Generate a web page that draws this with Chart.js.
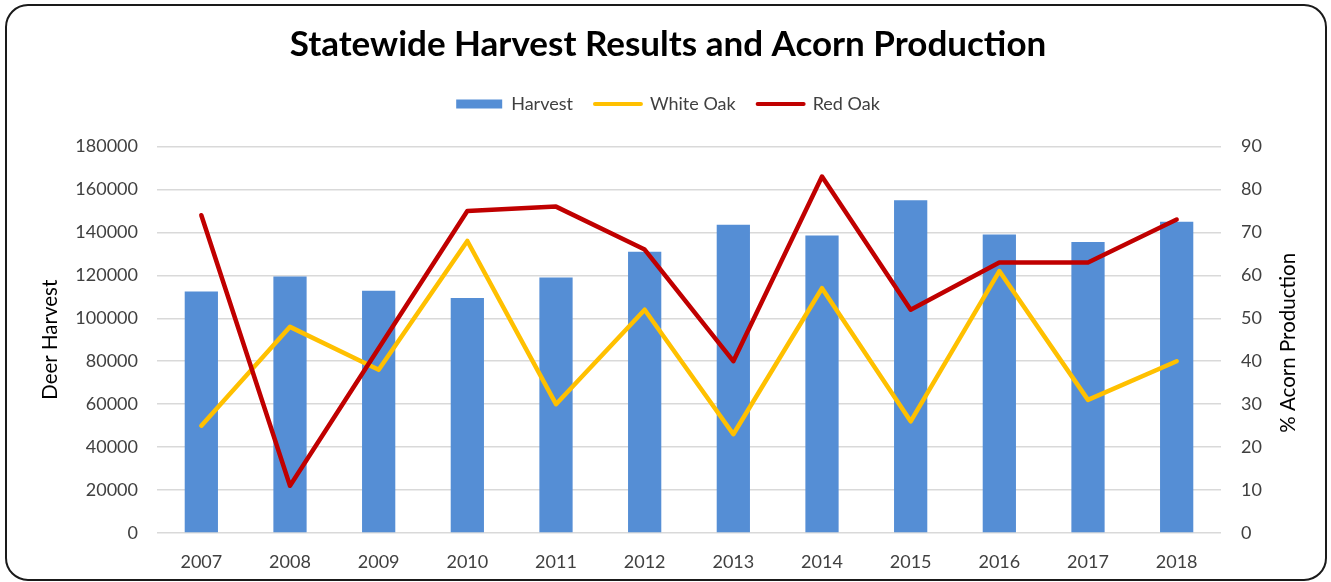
<!DOCTYPE html>
<html>
<head>
<meta charset="utf-8">
<script src="https://cdn.jsdelivr.net/npm/chart.js@4.4.1/dist/chart.umd.min.js"></script>
<style>
  html, body { margin: 0; padding: 0; background: #ffffff; }
  #wrap { width: 1331px; height: 582px; position: relative; }
</style>
</head>
<body>
<div id="wrap"><canvas id="chart" width="1331" height="582"></canvas></div>
<script>
// Statewide deer harvest vs. acorn production (% of trees producing)
const years = ['2007','2008','2009','2010','2011','2012','2013','2014','2015','2016','2017','2018'];
const harvest = [112500, 119500, 112800, 109500, 119000, 131000, 143500, 138500, 155000, 139000, 135500, 145000];
const whiteOak = [25, 48, 38, 68, 30, 52, 23, 57, 26, 61, 31, 40];
const redOak = [74, 11, 43, 75, 76, 66, 40, 83, 52, 63, 63, 73];

const harvestTicks = { min: 0, max: 180000, step: 20000 };
const acornTicks = { min: 0, max: 90, step: 10 };

const FONT = 'Lato, "Open Sans", sans-serif';
const TEXT = '#404040';
const RIGHT_TITLE = '% Acorn Production';

// rounded frame around the whole chart
const framePlugin = {
  id: 'frame',
  afterDraw(chart) {
    const ctx = chart.ctx;
    ctx.save();
    ctx.strokeStyle = '#1a1a1a';
    ctx.lineWidth = 2;
    ctx.beginPath();
    ctx.roundRect(6, 5, 1320, 575, 22);
    ctx.stroke();
    ctx.restore();
  }
};

// empty layout box that keeps a gap between the legend and the plot
const spacerPlugin = {
  id: 'spacer',
  beforeInit(chart) {
    Chart.layouts.addBox(chart, {
      position: 'top',
      weight: 500,
      fullSize: true,
      options: {},
      isHorizontal() { return true; },
      getPadding() { return { top: 0, left: 0, bottom: 0, right: 0 }; },
      update(maxWidth) { this.width = maxWidth; this.height = 23.5; },
      draw() {}
    });
  }
};

// right-hand axis title, reading bottom to top
const rightTitlePlugin = {
  id: 'rightTitle',
  afterDraw(chart) {
    const s = chart.scales.y1;
    const ctx = chart.ctx;
    ctx.save();
    ctx.translate(s.right - 13, (chart.chartArea.top + chart.chartArea.bottom) / 2 + 3);
    ctx.rotate(-Math.PI / 2);
    ctx.font = '20.5px ' + FONT;
    ctx.fillStyle = '#000000';
    ctx.textAlign = 'center';
    ctx.textBaseline = 'middle';
    ctx.fillText(RIGHT_TITLE, 0, 0);
    ctx.restore();
  }
};

const plainNumber = (v) => String(v);

new Chart(document.getElementById('chart'), {
  type: 'bar',
  data: {
    labels: years,
    datasets: [
      {
        label: 'Harvest',
        data: harvest,
        backgroundColor: '#558ED5',
        borderWidth: 0,
        barPercentage: 0.75,
        categoryPercentage: 0.5,
        yAxisID: 'y',
        order: 3
      },
      {
        type: 'line',
        label: 'White Oak',
        data: whiteOak,
        borderColor: '#FFC000',
        backgroundColor: '#FFC000',
        borderWidth: 4.5,
        borderJoinStyle: 'round',
        borderCapStyle: 'round',
        pointRadius: 0,
        tension: 0,
        yAxisID: 'y1',
        order: 2
      },
      {
        type: 'line',
        label: 'Red Oak',
        data: redOak,
        borderColor: '#C00000',
        backgroundColor: '#C00000',
        borderWidth: 4.5,
        borderJoinStyle: 'round',
        borderCapStyle: 'round',
        pointRadius: 0,
        tension: 0,
        yAxisID: 'y1',
        order: 1
      }
    ]
  },
  options: {
    responsive: false,
    animation: false,
    devicePixelRatio: 1,
    layout: { padding: { left: 35, right: 30, top: 10, bottom: 0 } },
    plugins: {
      title: {
        display: true,
        text: 'Statewide Harvest Results and Acorn Production',
        color: '#000000',
        font: { family: FONT, size: 35, weight: 'bold', lineHeight: 1.2 },
        padding: { top: 14, bottom: 7 }
      },
      legend: {
        position: 'top',
        labels: {
          color: TEXT,
          font: { family: FONT, size: 18 },
          usePointStyle: true,
          pointStyleWidth: 46,
          boxHeight: 9,
          padding: 22,
          generateLabels(chart) {
            return chart.data.datasets.map((ds, i) => {
              const isBar = (ds.type || chart.config.type) === 'bar';
              return {
                text: ds.label,
                datasetIndex: i,
                pointStyle: isBar ? 'rect' : 'line',
                fillStyle: isBar ? ds.backgroundColor : ds.borderColor,
                strokeStyle: isBar ? ds.backgroundColor : ds.borderColor,
                lineWidth: isBar ? 0 : 4,
                lineCap: 'round',
                fontColor: TEXT,
                hidden: false
              };
            });
          }
        }
      },
      tooltip: { enabled: false }
    },
    scales: {
      x: {
        grid: { display: false },
        border: { display: false },
        ticks: { color: TEXT, font: { family: FONT, size: 18 }, padding: 10 },
        afterFit(scale) { scale.height = 49; }
      },
      y: {
        position: 'left',
        min: harvestTicks.min,
        max: harvestTicks.max,
        ticks: { stepSize: harvestTicks.step, color: TEXT, font: { family: FONT, size: 18 }, padding: 19, callback: plainNumber },
        grid: { color: '#D9D9D9', lineWidth: 1.5, drawTicks: false },
        border: { display: false },
        title: { display: true, text: 'Deer Harvest', color: '#000000', font: { family: FONT, size: 20.5 }, padding: { top: 3, bottom: 0 } },
        afterFit(scale) { scale.width = 122; }
      },
      y1: {
        position: 'right',
        min: acornTicks.min,
        max: acornTicks.max,
        ticks: { stepSize: acornTicks.step, color: TEXT, font: { family: FONT, size: 18 }, padding: 20, callback: plainNumber },
        grid: { display: false, drawTicks: false },
        border: { display: false },
        title: { display: false },
        afterFit(scale) { scale.width = 80; }
      }
    }
  },
  plugins: [framePlugin, spacerPlugin, rightTitlePlugin]
});
</script>
</body>
</html>
